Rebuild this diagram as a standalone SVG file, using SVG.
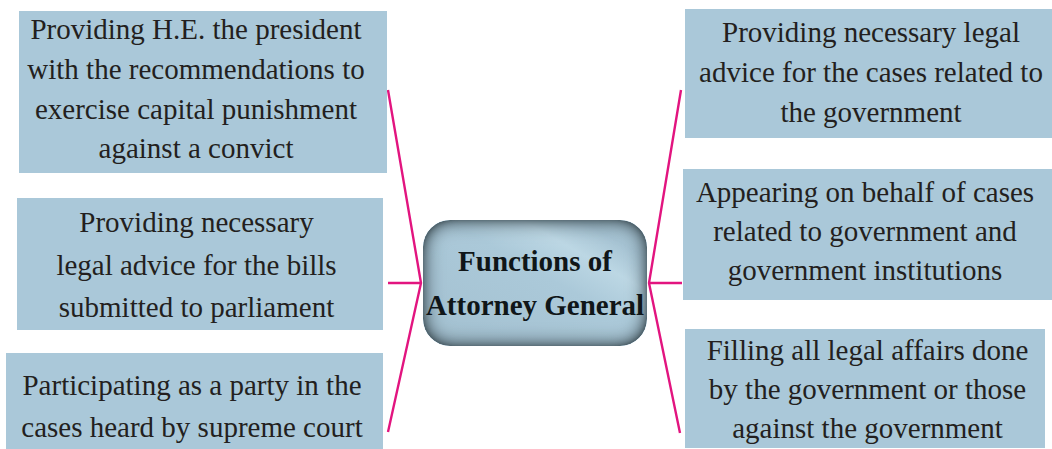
<svg xmlns="http://www.w3.org/2000/svg" width="1052" height="449" viewBox="0 0 1052 449">
  <defs>
    <style>
      .box { fill: #aac8d9; }
      .label { font-family: "Liberation Serif", "Times New Roman", serif; font-size: 29px; fill: #231f20; text-anchor: middle; }
      .title { font-family: "Liberation Serif", "Times New Roman", serif; font-size: 29px; font-weight: bold; fill: #101618; text-anchor: middle; }
      .link { fill: none; stroke: #e2147f; stroke-width: 2.4; stroke-linejoin: miter; }
    </style>
    <!-- sheen across the central badge -->
    <linearGradient id="sheen" x1="0" y1="1" x2="1" y2="0">
      <stop offset="0" stop-color="#a3c0d0"/>
      <stop offset="0.55" stop-color="#abc9d9"/>
      <stop offset="0.72" stop-color="#bcd7e4"/>
      <stop offset="0.85" stop-color="#a6c3d3"/>
      <stop offset="1" stop-color="#a3c0d0"/>
    </linearGradient>
    <!-- dark bevel along the inside edge of the badge -->
    <filter id="bevel" x="-5%" y="-5%" width="110%" height="110%">
      <feGaussianBlur in="SourceAlpha" stdDeviation="10" result="blur"/>
      <feComposite in="SourceAlpha" in2="blur" operator="arithmetic" k2="1.9" k3="-1.9" result="edge"/>
      <feFlood flood-color="#53666f"/>
      <feComposite in2="edge" operator="in" result="shade"/>
      <feMerge>
        <feMergeNode in="SourceGraphic"/>
        <feMergeNode in="shade"/>
      </feMerge>
    </filter>
  </defs>

  <!-- connectors -->
  <g id="connectors">
    <path class="link" d="M388,90 L421,283 L388,432 M388,283 H421"/>
    <path class="link" d="M681,90 L649,283 L680,433 M649,283 H682"/>
  </g>

  <!-- central node -->
  <g id="center">
    <rect x="423" y="220" width="224" height="126" rx="27" ry="27" fill="url(#sheen)" filter="url(#bevel)"/>
    <text class="title"><tspan x="535" y="271">Functions of</tspan><tspan x="535" y="315">Attorney General</tspan></text>
  </g>

  <!-- left column -->
  <g id="left-1">
    <rect class="box" x="19" y="11" width="368" height="162"/>
    <text class="label"><tspan x="196" y="39">Providing H.E. the president</tspan><tspan x="196" y="79">with the recommendations to</tspan><tspan x="196" y="118.5">exercise capital punishment</tspan><tspan x="196" y="158">against a convict</tspan></text>
  </g>
  <g id="left-2">
    <rect class="box" x="17" y="198" width="366" height="132"/>
    <text class="label"><tspan x="196.5" y="232">Providing necessary</tspan><tspan x="196.5" y="275">legal advice for the bills</tspan><tspan x="196.5" y="317">submitted to parliament</tspan></text>
  </g>
  <g id="left-3">
    <rect class="box" x="6" y="353" width="377" height="100"/>
    <text class="label"><tspan x="192" y="395">Participating as a party in the</tspan><tspan x="192" y="437">cases heard by supreme court</tspan></text>
  </g>

  <!-- right column -->
  <g id="right-1">
    <rect class="box" x="685" y="9" width="367" height="129"/>
    <text class="label"><tspan x="871" y="42">Providing necessary legal</tspan><tspan x="871" y="82">advice for the cases related to</tspan><tspan x="871" y="122">the government</tspan></text>
  </g>
  <g id="right-2">
    <rect class="box" x="683" y="169" width="369" height="131"/>
    <text class="label"><tspan x="865" y="202">Appearing on behalf of cases</tspan><tspan x="865" y="241">related to government and</tspan><tspan x="865" y="280">government institutions</tspan></text>
  </g>
  <g id="right-3">
    <rect class="box" x="685" y="329" width="360" height="119"/>
    <text class="label"><tspan x="867.5" y="360">Filling all legal affairs done</tspan><tspan x="867.5" y="399">by the government or those</tspan><tspan x="867.5" y="438">against the government</tspan></text>
  </g>
</svg>
